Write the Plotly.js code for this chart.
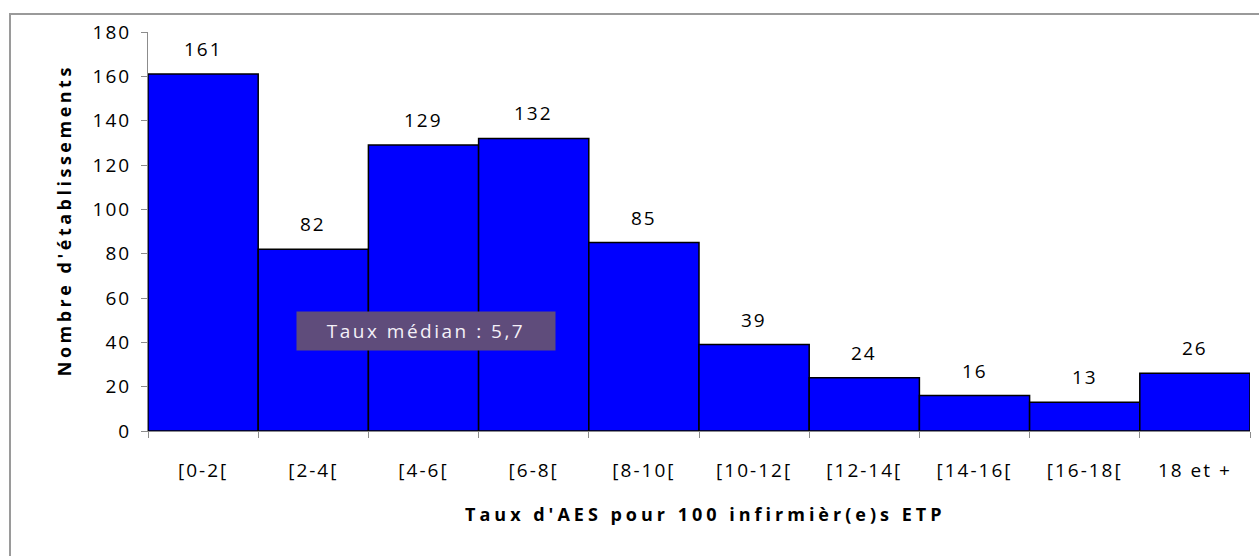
<!DOCTYPE html>
<html>
<head>
<meta charset="utf-8">
<script src="https://cdn.plot.ly/plotly-3.0.1.min.js"></script>
<style>
  html, body { margin: 0; padding: 0; background: #fff; }
  #chart { width: 1259px; height: 556px; }
  #frame { position: absolute; left: 9px; top: 13px; width: 1260px; height: 560px;
           border: 2px solid #9a9a9a; box-sizing: border-box; pointer-events: none; }
  .main-svg text { letter-spacing: 2px; }
  .main-svg text.sp-title { letter-spacing: 4px; }
  .main-svg text.sp-ytitle { letter-spacing: 3.5px; }
  .main-svg text.sp-median { letter-spacing: 2.5px; }
</style>
</head>
<body>
<div id="chart"></div>
<div id="frame"></div>
<script>
const categories = ["[0-2[", "[2-4[", "[4-6[", "[6-8[", "[8-10[", "[10-12[", "[12-14[", "[14-16[", "[16-18[", "18 et +"];
const counts = [161, 82, 129, 132, 85, 39, 24, 16, 13, 26];
const yTicks = [0, 20, 40, 60, 80, 100, 120, 140, 160, 180];
const xTitle = "Taux d'AES pour 100 infirmièr(e)s ETP";
const yTitle = "Nombre d'établissements";
const medianText = "Taux médian : 5,7";

const font = "Open Sans, Lato, sans-serif";

const labelAnnotations = categories.map((c, i) => ({
  x: c, y: counts[i], xref: 'x', yref: 'y',
  text: String(counts[i]), showarrow: false,
  yanchor: 'middle', yshift: 25,
  font: {family: font, size: 19, color: '#000'}
}));

const layout = {
  width: 1259, height: 556,
  margin: {l: 148, r: 9, t: 32, b: 125},
  paper_bgcolor: '#fff', plot_bgcolor: '#fff',
  bargap: 0,
  showlegend: false,
  xaxis: {
    type: 'category', range: [-0.5, 9.5],
    tickson: 'boundaries', ticks: 'outside', ticklen: 6, tickcolor: '#8c8c8c', tickwidth: 1,
    showline: true, linecolor: '#8c8c8c', linewidth: 1,
    showgrid: false, zeroline: false,
    ticklabelstandoff: 22,
    tickfont: {family: font, size: 19, color: '#000'}
  },
  yaxis: {
    range: [0, 180], tickvals: yTicks, ticktext: yTicks.map(String),
    ticks: 'outside', ticklen: 6, tickcolor: '#8c8c8c', tickwidth: 1,
    showline: true, linecolor: '#8c8c8c', linewidth: 1,
    showgrid: false, zeroline: false,
    ticklabelstandoff: 6,
    tickfont: {family: font, size: 19, color: '#000'}
  },
  annotations: labelAnnotations.concat([
    {
      x: 2.02, y: 45, xref: 'x', yref: 'y', text: medianText, showarrow: false,
      bgcolor: '#5f4c7b', width: 256, height: 36, borderpad: 1,
      font: {family: font, size: 19, color: '#f4f0f8'}
    },
    {
      x: 0.505, y: (431 - 514) / 399, xref: 'paper', yref: 'paper', text: '<b>' + xTitle + '</b>',
      showarrow: false, xanchor: 'center', yanchor: 'middle',
      font: {family: font, size: 18, color: '#000'}
    },
    {
      x: (64 - 148) / 1102, y: (431 - 220) / 399, xref: 'paper', yref: 'paper', text: '<b>' + yTitle + '</b>',
      showarrow: false, textangle: -90, xanchor: 'center', yanchor: 'middle',
      font: {family: font, size: 18, color: '#000'}
    }
  ])
};

const data = [{
  type: 'bar', x: categories, y: counts,
  marker: {color: '#0000ff', line: {color: '#000', width: 1.5}},
  hoverinfo: 'x+y'
}];

Plotly.newPlot('chart', data, layout, {displayModeBar: false, staticPlot: true}).then(() => {
  document.querySelectorAll('.annotation-text').forEach(t => {
    const s = t.textContent;
    if (s === xTitle) t.classList.add('sp-title');
    if (s === yTitle) t.classList.add('sp-ytitle');
    if (s === medianText) t.classList.add('sp-median');
  });
});
</script>
</body>
</html>
